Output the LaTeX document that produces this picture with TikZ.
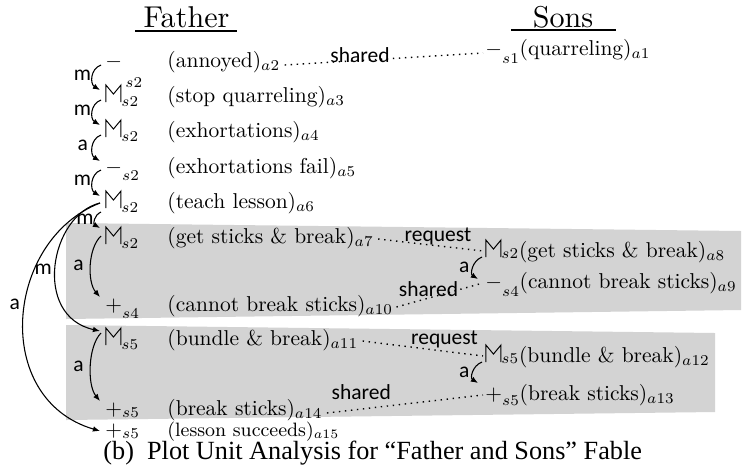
\documentclass[tikz,border=0pt]{standalone}
\usepackage{fontspec}
\newfontfamily\labfont{Carlito}
\newfontfamily\capfont{Liberation Serif}
\usetikzlibrary{arrows.meta,calc}
\definecolor{panelgray}{RGB}{211,211,211}
% mental-state glyph
\newcommand\mstate{\tikz[baseline=0pt,line width=0.45pt]\draw (0.6pt,0pt)--(0.6pt,7.9pt)--(4.1pt,3.7pt)--(7.6pt,7.9pt)--(7.6pt,0pt);}
% lowered character index
\newcommand\lowsub[2]{\raisebox{-#1}{$\scriptstyle #2$}}
\begin{document}
\begin{tikzpicture}[x=0.465pt,y=-0.465pt,
  sym/.style={anchor=base west,inner sep=0pt},
  txt/.style={anchor=base west,inner sep=0pt},
  head/.style={anchor=base,inner sep=0pt},
  lbl/.style={inner sep=0pt,font=\labfont\fontsize{10}{11}\selectfont},
  link/.style={-{Latex[length=3.3pt,width=2.6pt]},line width=0.5pt},
  dots/.style={line width=0.65pt,dash pattern=on 0.65pt off 2.15pt}]
\useasboundingbox (0,0) rectangle (747,469);

% shaded groups
\fill[panelgray] (66,223) -- (741,231) -- (741,310) -- (66,319) -- cycle;
\fill[panelgray] (66,325) -- (715,333) -- (715,412) -- (66,420) -- cycle;

% headings
\node[head] (father) at (186.5,27) {\scalebox{1.4}{Father}};
\node[head] (sons) at (563,27) {\scalebox{1.4}{Sons}};
\draw[line width=0.55pt] ($(father.base west)+(-8,4)$) -- ($(father.base east)+(7,4)$);
\draw[line width=0.55pt] ($(sons.base west)+(-21,3)$) -- ($(sons.base east)+(22,3)$);

% Father: states
\node[sym] (f2)  at (105,67)  {$-$\kern1.5pt\lowsub{9.5pt}{s2}};
\node[sym] (f3)  at (105,102) {\mstate\lowsub{2.3pt}{s2}};
\node[sym] (f4)  at (105,137) {\mstate\lowsub{2.3pt}{s2}};
\node[sym] (f5)  at (105,173) {$-$\lowsub{3.3pt}{s2}};
\node[sym] (f6)  at (105,208) {\mstate\lowsub{2.3pt}{s2}};
\node[sym] (f7)  at (105,244) {\mstate\lowsub{2.3pt}{s2}};
\node[sym] (f10) at (105,311) {$+$\lowsub{3.7pt}{s4}};
\node[sym] (f11) at (105,345) {\mstate\lowsub{2.3pt}{s5}};
\node[sym] (f14) at (105,415) {$+$\lowsub{1pt}{s5}};
\node[sym] (f15) at (105,436) {$+$\lowsub{1pt}{s5}};

\node[txt] (t2)  at (167,67)  {(annoyed)$_{a2}$};
\node[txt] (t3)  at (167,102) {(stop quarreling)$_{a3}$};
\node[txt] (t4)  at (167,137) {(exhortations)$_{a4}$};
\node[txt] (t5)  at (167,173) {(exhortations fail)$_{a5}$};
\node[txt] (t6)  at (167,208) {(teach lesson)$_{a6}$};
\node[txt] (t7)  at (167,243) {(get sticks \& break)$_{a7}$};
\node[txt] (t10) at (167,311) {(cannot break sticks)$_{a10}$};
\node[txt] (t11) at (167,345) {(bundle \& break)$_{a11}$};
\node[txt] (t14) at (167,415) {(break sticks)$_{a14}$};
\node[txt,font=\small] (t15) at (167,436) {(lesson succeeds)$_{a15}$};

% Sons: states
\node[sym] (s1)  at (485,55)  {$-$\lowsub{4pt}{s1}};
\node[sym] (s8)  at (485,257) {\mstate\lowsub{0.8pt}{s2}};
\node[sym] (s9)  at (485,288) {$-$\lowsub{4pt}{s4}};
\node[sym] (s12) at (485,362) {\mstate\lowsub{0.8pt}{s5}};
\node[sym] (s13) at (485,400) {$+$\lowsub{2.5pt}{s5}};

\node[txt] (u1)  at (s1.base east)  {(quarreling)$_{a1}$};
\node[txt] (u8)  at (s8.base east)  {(get sticks \& break)$_{a8}$};
\node[txt] (u9)  at (s9.base east)  {(cannot break sticks)$_{a9}$};
\node[txt] (u12) at (s12.base east) {(bundle \& break)$_{a12}$};
\node[txt] (u13) at (s13.base east) {(break sticks)$_{a13}$};

% cross-character links
\draw[dots] ($(t2.base east)+(4,-2)$) -- ($(s1.base west)+(-2,-2)$)
  node[lbl,pos=0.38,anchor=south,yshift=-1.5pt] {shared};
\draw[dots] ($(t7.base east)+(4,-4)$) -- ($(s8.base west)+(-2,-6)$)
  node[lbl,pos=0.57,anchor=south] {request};
\draw[dots] ($(t10.base east)+(3,-4)$) -- ($(s9.base west)+(-2,-5)$)
  node[lbl,pos=0.37,anchor=south,yshift=0.5pt] {shared};
\draw[dots] ($(t11.base east)+(4,-4)$) -- ($(s12.base west)+(-2,-6)$)
  node[lbl,pos=0.68,anchor=south,yshift=1pt] {request};
\draw[dots] ($(t14.base east)+(4,-2)$) -- ($(s13.base west)+(-2,-5)$)
  node[lbl,pos=0.22,anchor=south,yshift=4pt] {shared};

% Father: causal links
\draw[link] ($(f2.base west)+(-4,-2)$) .. controls +(-11,4) and +(-10,-6) .. ($(f3.base west)+(-5,-12)$)
  node[lbl,pos=0.45,anchor=east,xshift=-0.5pt] {m};
\draw[link] ($(f3.base west)+(-4,-2)$) .. controls +(-11,4) and +(-10,-6) .. ($(f4.base west)+(-5,-12)$)
  node[lbl,pos=0.45,anchor=east,xshift=-0.5pt] {m};
\draw[link] ($(f4.base west)+(-4,-2)$) .. controls +(-11,4) and +(-10,-6) .. ($(f5.base west)+(-5,-12)$)
  node[lbl,pos=0.45,anchor=east,xshift=-2pt] {a};
\draw[link] ($(f5.base west)+(-4,-3)$) .. controls +(-11,4) and +(-10,-6) .. ($(f6.base west)+(-5,-12)$)
  node[lbl,pos=0.45,anchor=east,xshift=-0.5pt] {m};
\draw[link] ($(f6.base west)+(-4,4)$) .. controls +(-7,3) and +(-7,-4) .. ($(f7.base west)+(-5,-16)$)
  node[lbl,pos=0.5,anchor=east,xshift=-0.5pt] {m};
\draw[link] ($(f7.base west)+(-4,-8)$) .. controls +(-13,12) and +(-13,-15) .. ($(f10.base west)+(-5,-14)$)
  node[lbl,pos=0.5,anchor=east,xshift=-3pt] {a};
\draw[link] ($(f11.base west)+(-4,-12)$) .. controls +(-13,13) and +(-13,-16) .. ($(f14.base west)+(-5,-14)$)
  node[lbl,pos=0.5,anchor=east,xshift=-3pt] {a};
\draw[link] ($(f6.base west)+(-5,-5)$) .. controls +(-50,12) and +(-68,-15) .. ($(f11.base west)+(-5,-14)$)
  node[lbl,pos=0.52,anchor=east,xshift=-1.5pt] {m};
\draw[link] ($(f6.base west)+(-5,-5)$) .. controls +(-95,37) and +(-109,-32) .. ($(f15.base west)+(-5,-5)$)
  node[lbl,pos=0.45,anchor=east,xshift=-2pt] {a};

% Sons: causal links
\draw[link] ($(s8.base west)+(-3,0)$) .. controls +(-10,4) and +(-8,-5) .. ($(s9.base west)+(-7,-9)$)
  node[lbl,pos=0.5,anchor=east,xshift=-1.5pt] {a};
\draw[link] ($(s12.base west)+(-3,0)$) .. controls +(-10,4) and +(-8,-5) .. ($(s13.base west)+(-7,-17)$)
  node[lbl,pos=0.5,anchor=east,xshift=-1.5pt] {a};

% caption
\node[anchor=base west,inner sep=0pt,font=\capfont\fontsize{12.2}{14}\selectfont] (cap) at (103,459)
  {(b)\ \ Plot Unit Analysis for “Father and Sons” Fable};
\end{tikzpicture}
\end{document}
